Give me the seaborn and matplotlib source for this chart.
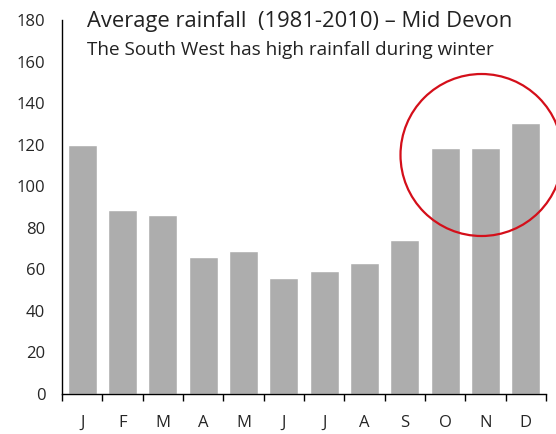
import numpy as np
import pandas as pd
import seaborn as sns
from matplotlib import pyplot as plt
from matplotlib.patches import Ellipse

# data
months = ['J', 'F', 'M', 'A', 'M', 'J', 'J', 'A', 'S', 'O', 'N', 'D']
rainfall = [120, 88.5, 86, 66, 69, 56, 59, 63, 74, 118.5, 118.5, 130.5]
yticks = list(range(0, 181, 20))

df = pd.DataFrame({'pos': range(len(months)), 'rain': rainfall})

sns.set_style('white')
plt.rcParams['font.family'] = ['Open Sans', 'DejaVu Sans']

fig = plt.figure(figsize=(5.56, 4.34), dpi=100)
ax = fig.add_axes([62/556, 40/434, 484/556, 374/434])

sns.barplot(data=df, x='pos', y='rain', color='#adadad', saturation=1,
            width=0.72, ax=ax)

ax.set_ylim(0, 180)
ax.set_xlim(-0.5, len(months) - 0.5)
ax.set_yticks(yticks)
ax.set_yticklabels([str(t) for t in yticks], fontsize=12)
ax.set_xticks(range(len(months)))
ax.set_xticklabels(months, fontsize=12)
ax.set_xticks(np.arange(-0.5, len(months)), minor=True)
ax.tick_params(axis='x', which='major', bottom=True, length=0, pad=15)
ax.tick_params(axis='x', which='minor', bottom=True, length=5, width=1,
               color='black', direction='out')
ax.tick_params(axis='y', length=0, pad=12)
ax.set_xlabel('')
ax.set_ylabel('')

sns.despine(ax=ax)
for s in ['left', 'bottom']:
    ax.spines[s].set_color('black')
    ax.spines[s].set_linewidth(1)

fig.text(87/556, 1 - 22/434, 'Average rainfall  (1981-2010) \u2013 Mid Devon',
         fontsize=15.8, va='center', color='#222222')
fig.text(87/556, 1 - 50/434, 'The South West has high rainfall during winter',
         fontsize=13.6, va='center', color='#222222')

circ = Ellipse((481.5/556, 1 - 155/434), 2*81/556, 2*81/434,
               transform=fig.transFigure, fill=False, edgecolor='#d40f1a', lw=1.6)
fig.patches.append(circ)

fig.savefig('out.png', dpi=100)
